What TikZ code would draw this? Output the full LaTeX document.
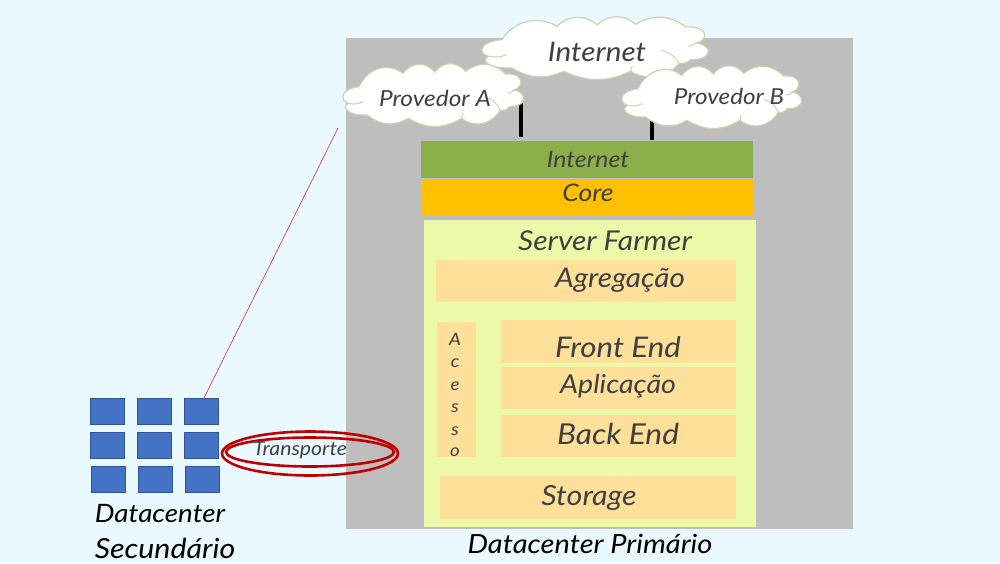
\documentclass[tikz,border=0pt]{standalone}
\usepackage{fontspec}
\setmainfont{Lato}[FakeStretch=1.1]
\definecolor{bgc}{HTML}{EAF9FF}
\definecolor{greyc}{HTML}{BEBEBE}
\definecolor{greenc}{HTML}{8BAF4B}
\definecolor{corec}{HTML}{FFC000}
\definecolor{farmc}{HTML}{EBF9A9}
\definecolor{orc}{HTML}{FEE09A}
\definecolor{bluec}{HTML}{4472C4}
\definecolor{blued}{HTML}{2F5597}
\definecolor{txtc}{HTML}{404040}
\definecolor{redc}{HTML}{C00000}
\definecolor{linec}{HTML}{C0504D}
\definecolor{cloude}{HTML}{CBD3AE}
\usetikzlibrary{shapes.geometric}
\newcommand{\cloudshape}[3]{%
  \begin{scope}[shift={(#1,#2)},xscale=#3/683,yscale=.3333]
    \path[fill=white,draw=cloude,line width=1.2pt]
      (60,68) to[bend left=45] (225,28) to[bend left=45] (345,24) to[bend left=45] (460,22)
      to[bend left=35] (610,30)
      .. controls (680,25) and (680,70) .. (642,78)
      .. controls (695,85) and (690,130) .. (625,128)
      .. controls (612,140) and (600,140) .. (590,140)
      to[bend left=40] (445,163) to[bend left=25] (245,163)
      to[bend left=28] (90,153)
      .. controls (5,155) and (0,125) .. (20,118)
      .. controls (-12,110) and (-12,75) .. (60,68) -- cycle;
    \draw[draw=cloude,line width=1pt]
      (535,100) to[bend left=25] (590,140)
      (642,78) to[bend left=15] (618,88)
      (20,118) to[bend right=15] (75,113)
      (445,163) to[bend left=15] (450,148);
  \end{scope}}
\tikzset{
  x=1pt,y=-1pt,
  band/.style 2 args={rectangle,inner sep=0pt,outer sep=0pt,minimum width=#1,minimum height=#2,anchor=north west},
  lbl/.style={inner sep=0pt,outer sep=0pt,text=txtc,font=\itshape\fontsize{#1}{#1}\selectfont},
  dark/.style={inner sep=0pt,outer sep=0pt,text=black,font=\itshape\fontsize{#1}{#1}\selectfont},
  srv/.style={band={34}{26},fill=bluec,draw=blued,line width=.5pt},
  link/.style={line width=3.2pt,black},
  ring/.style={draw=redc,line width=2.6pt,ellipse,inner sep=0pt},
}
\begin{document}
\begin{tikzpicture}
\useasboundingbox (0,0) rectangle (1000,563);
\fill[bgc] (0,0) rectangle (1000,563);
\node[band={507}{491},fill=greyc] (primary) at (346,38) {};
\node[band={332}{37},fill=greenc] (inet) at (421,141) {};
\node[band={331}{36},fill=corec] (core) at (422,179) {};
\node[band={332}{307},fill=farmc] (farm) at (424,220) {};
\node[band={300}{42},fill=orc] (agr) at (436,260) {};
\node[band={39}{135},fill=orc] (ace) at (437,322) {};
\node[band={235}{43},fill=orc] (fro) at (501,320) {};
\node[band={235}{42},fill=orc] (apl) at (501,367) {};
\node[band={235}{42},fill=orc] (bac) at (501,415) {};
\node[band={296}{43},fill=orc] (sto) at (440,476) {};
% connectors
\coordinate (la) at (521,100);
\coordinate (lb) at (652,115);
\draw[link,shorten >=4.4pt] (la) -- (la |- inet.north);
\draw[link,shorten >=1pt] (lb) -- (lb |- inet.north);
% clouds
\cloudshape{482}{17}{228}
\cloudshape{343}{64}{182}
\cloudshape{622}{66}{181}
\node[lbl=27] (tI) at (597,52) {Internet};
\node[lbl=22.2] (tA) at (435,98) {Provedor A};
\node[lbl=22] (tB) at (729,96) {Provedor B};
\node[lbl=22.6] at (588,159) {Internet};
\node[lbl=24.2] at (588,193) {Core};
\node[lbl=27.3] at (605,241) {Server Farmer};
\node[lbl=27] at (620,280) {Agregação};
\node[lbl=28.4] at (618,347) {Front End};
\node[lbl=26] at (618,386) {Aplicação};
\node[lbl=28.8] at (618,434) {Back End};
\node[lbl=27.7] at (589,498) {Storage};
\foreach \c/\yy in {A/339,c/363,e/386,s/408,s/431,o/452}{
  \node[lbl=17] at (455,\yy) {\c};
}
% secondary datacentre
\node[srv] (s11) at (90,398) {};
\node[srv] (s12) at (137,398) {};
\node[srv] (s13) at (184,398) {};
\node[srv] (s21) at (90,432) {};
\node[srv] (s22) at (137,432) {};
\node[srv] (s23) at (184,432) {};
\node[srv] (s31) at (91,466) {};
\node[srv] (s32) at (138,466) {};
\node[srv] (s33) at (185,466) {};
\coordinate (ltop) at (338,128);
\draw[linec,line width=.7pt] (s13.north) ++(3,0) coordinate (lbot) (lbot) -- (ltop);
% transport
\node[ring,minimum width=176,minimum height=44] (r1) at (310,453.5) {};
\node[ring,minimum width=168,minimum height=29] (r2) at (310,452) {};
\node[lbl=19.3] (tT) at (300,450) {Transporte};
\node[dark=25.3] (d1) at (160,514) {Datacenter};
\node[dark=27.6] (d2) at (165,548) {Secundário};
\node[dark=26.4] (d3) at (590,544) {Datacenter Primário};
\end{tikzpicture}
\end{document}
